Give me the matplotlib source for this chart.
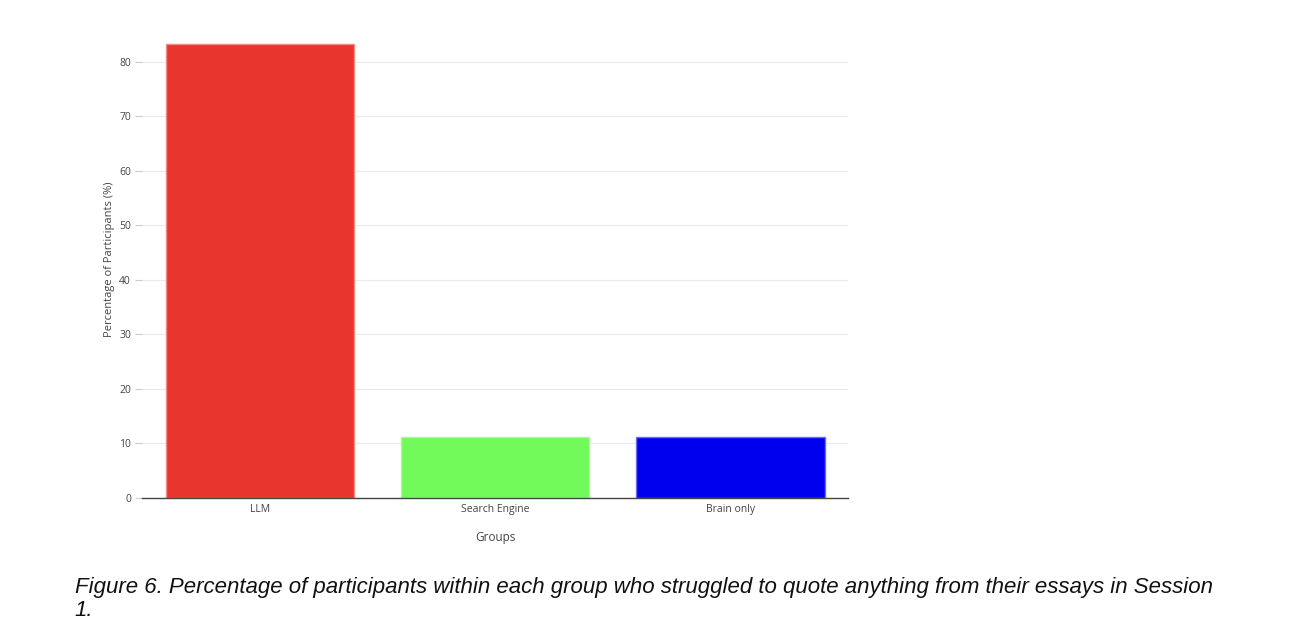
import matplotlib.pyplot as plt

groups = ['LLM', 'Search Engine', 'Brain only']
values = [83.33, 11.11, 11.11]
colors = ['#E8352E', '#72F95A', '#0000EE']
edges = ['#F08A86', '#A8FB98', '#6E6EF5']
yticks = [0, 10, 20, 30, 40, 50, 60, 70, 80]

plt.rcParams['font.family'] = ['Open Sans', 'DejaVu Sans']

fig = plt.figure(figsize=(12.9, 6.43), dpi=100)
ax = fig.add_axes([0.1101, 0.2255, 0.5473, 0.7418])

x = range(len(groups))
ax.bar(x, values, width=0.8, color=colors, edgecolor=edges, linewidth=1, zorder=3)
ax.set_xlim(-0.5, 2.5)
ax.set_ylim(0, 87.5)
ax.set_yticks(yticks)
ax.set_xticks(list(x))
ax.set_xticklabels(groups)
ax.grid(axis='y', color='#ebebeb', linewidth=0.8, zorder=0)

for s in ['top', 'right', 'left']:
    ax.spines[s].set_visible(False)
ax.spines['bottom'].set_color('#444444')
ax.spines['bottom'].set_linewidth(1)
ax.spines['bottom'].set_zorder(4)

ax.tick_params(axis='y', length=5, color='#cccccc', labelsize=7.5, labelcolor='#444444', pad=3)
ax.tick_params(axis='x', length=0, labelsize=7.5, labelcolor='#444444', pad=4)

ax.set_ylabel('Percentage of Participants (%)', fontsize=8, color='#444444', labelpad=3)
ax.set_xlabel('Groups', fontsize=8.5, color='#444444', labelpad=12)

fig.text(0.058, 0.1026, 'Figure 6. Percentage of participants within each group who struggled to quote anything from their essays in Session\n1.',
         fontsize=16, style='italic', family=['Liberation Sans', 'DejaVu Sans'], color='#111111',
         va='top', ha='left', linespacing=1.15)

plt.savefig('out.png', dpi=100)
